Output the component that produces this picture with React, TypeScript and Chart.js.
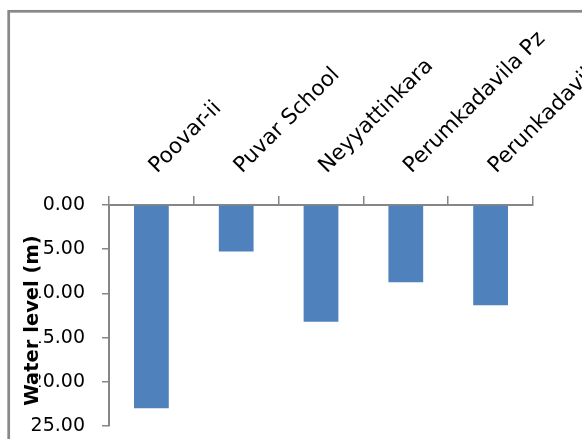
import React, { useEffect, useRef } from "react";
import { Chart, registerables } from "chart.js";

Chart.register(...registerables);

// Monitoring wells and their water level below ground (m)
const wells = ["Poovar-ii", "Puvar School", "Neyyattinkara", "Perumkadavila Pz", "Perunkadavila"];
const waterLevel = [23.0, 5.25, 13.2, 8.75, 11.35];
const yTicks = [0, 5, 10, 15, 20, 25];

const AXIS_GREY = "#868686";
const BAR_BLUE = "#4F81BD";
const FONT = "'DejaVu Sans', sans-serif";

// Outer frame of the chart box (only the left and top edges fall inside the view)
const framePlugin = {
  id: "frame",
  beforeDraw(chart: Chart) {
    const ctx = chart.ctx;
    ctx.save();
    ctx.strokeStyle = "#888888";
    ctx.lineWidth = 2.7;
    ctx.strokeRect(8.7, 11.3, 2000, 2000);
    ctx.restore();
  },
};

// Vertical axis title, drawn over the tick labels on a white box
const axisTitlePlugin = {
  id: "axisTitle",
  afterDraw(chart: Chart) {
    const { ctx, chartArea } = chart;
    const text = "Water level (m)";
    const cy = (chartArea.top + chartArea.bottom) / 2 + 5;
    ctx.save();
    ctx.font = `bold 19.5px ${FONT}`;
    const w = ctx.measureText(text).width;
    ctx.fillStyle = "#ffffff";
    ctx.fillRect(20, cy - w / 2 - 2, 19, w + 4);
    ctx.translate(38, cy);
    ctx.rotate(-Math.PI / 2);
    ctx.fillStyle = "#000000";
    ctx.textAlign = "center";
    ctx.textBaseline = "alphabetic";
    ctx.fillText(text, 0, 0);
    ctx.restore();
  },
};

export default function App() {
  const canvasRef = useRef<HTMLCanvasElement | null>(null);

  useEffect(() => {
    if (!canvasRef.current) return;
    const chart = new Chart(canvasRef.current, {
      type: "bar",
      data: {
        labels: wells,
        datasets: [
          {
            data: waterLevel,
            backgroundColor: BAR_BLUE,
            borderWidth: 0,
            categoryPercentage: 1,
            barPercentage: 0.41,
          },
        ],
      },
      options: {
        responsive: false,
        animation: false,
        devicePixelRatio: 1,
        layout: { padding: { top: 0, left: 0, right: 49, bottom: 13 } },
        plugins: {
          legend: { display: false },
          tooltip: { enabled: false },
          title: { display: false },
        },
        scales: {
          x: {
            type: "category",
            position: "top",
            offset: true,
            grid: {
              offset: true,
              drawOnChartArea: false,
              drawTicks: true,
              tickLength: 9,
              color: AXIS_GREY,
              lineWidth: 1.5,
            },
            border: { color: AXIS_GREY, width: 2 },
            ticks: {
              autoSkip: false,
              minRotation: 45,
              maxRotation: 45,
              padding: 17,
              labelOffset: 20,
              color: "#000000",
              font: { family: FONT, size: 21.5 },
            },
            afterFit: (s: any) => {
              s.height = 205;
              s.paddingLeft = 0;
              s.paddingRight = 0;
            },
          },
          y: {
            type: "linear",
            position: "left",
            reverse: true,
            min: yTicks[0],
            max: yTicks[yTicks.length - 1],
            grid: {
              drawOnChartArea: false,
              drawTicks: true,
              tickLength: 7,
              color: AXIS_GREY,
              lineWidth: 1.5,
            },
            border: { color: AXIS_GREY, width: 2 },
            afterBuildTicks: (s: any) => {
              s.ticks = yTicks.map((v) => ({ value: v }));
            },
            ticks: {
              padding: 17,
              color: "#000000",
              font: { family: FONT, size: 19 },
              callback: (v: any) => Number(v).toFixed(2),
            },
            afterFit: (s: any) => {
              s.width = 109;
              s.paddingTop = 0;
              s.paddingBottom = 0;
            },
          },
        },
      },
      plugins: [framePlugin, axisTitlePlugin],
    });
    return () => chart.destroy();
  }, []);

  return (
    <div
      style={{
        position: "fixed",
        left: 0,
        top: 0,
        width: 582,
        height: 439,
        overflow: "hidden",
        background: "#ffffff",
      }}
    >
      <canvas ref={canvasRef} width={582} height={439} style={{ display: "block" }} />
    </div>
  );
}
